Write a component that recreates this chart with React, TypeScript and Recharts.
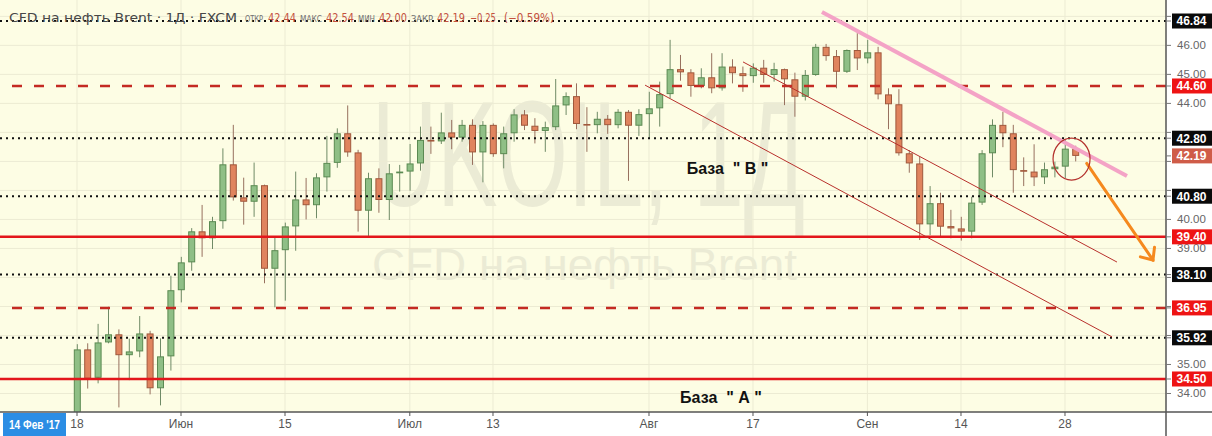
import React from 'react';
import { ComposedChart, Bar, XAxis, YAxis, CartesianGrid, ReferenceLine, ReferenceDot } from 'recharts';

// Daily candles, index 0 = 18 May ... index 96 = 29 Sep
const opens = [
  32.9, 35.52, 34.54, 35.76, 36.04, 35.32, 35.45, 36.07, 34.18, 35.28,
  37.56, 38.52, 39.59, 39.35, 39.94, 41.9, 40.76, 40.61, 41.18, 38.3,
  38.94, 39.76, 40.69, 40.49, 41.45, 41.95, 42.97, 42.31, 40.3, 41.42,
  40.67, 41.59, 41.65, 41.93, 42.74, 42.69, 43.0, 42.82, 43.26, 42.31,
  43.26, 42.25, 42.97, 43.62, 43.23, 43.05, 43.18, 43.93, 44.25, 43.29,
  43.25, 43.47, 43.25, 43.71, 43.23, 43.63, 43.83, 44.32, 45.18, 45.07,
  44.6, 44.9, 44.52, 45.27, 45.04, 44.94, 45.23, 44.98, 45.18, 44.83,
  44.23, 44.98, 45.95, 45.63, 45.09, 45.84, 45.55, 45.76, 44.31, 43.97,
  42.28, 41.93, 39.83, 40.56, 39.77, 39.69, 39.58, 40.58, 42.28, 43.26,
  42.97, 41.7, 41.65, 41.45, 41.73, 41.82, 42.44,
];
const highs = [
  35.7, 35.73, 36.4, 36.99, 36.21, 35.89, 36.67, 36.16, 35.9, 38.06,
  38.71, 39.7, 40.5, 40.09, 42.45, 43.26, 41.44, 41.96, 41.2, 39.4,
  39.89, 41.65, 41.43, 41.59, 42.88, 43.14, 43.93, 42.4, 41.61, 41.76,
  41.91, 41.88, 42.6, 43.2, 43.2, 43.68, 43.43, 43.43, 43.45, 43.39,
  43.31, 43.2, 43.8, 43.77, 43.49, 43.37, 44.84, 44.38, 44.69, 43.87,
  43.71, 43.6, 43.8, 43.77, 43.8, 44.4, 44.75, 46.19, 45.67, 45.18,
  45.21, 45.73, 45.73, 45.52, 45.27, 45.38, 45.5, 45.4, 45.2, 45.06,
  45.15, 46.05, 46.05, 45.84, 45.86, 46.42, 46.19, 45.95, 44.52, 44.49,
  42.39, 42.16, 41.15, 40.92, 40.33, 40.09, 40.78, 42.39, 43.45, 43.71,
  43.26, 42.14, 42.59, 41.96, 41.99, 42.74, 42.54,
];
const lows = [
  32.6, 34.17, 34.35, 35.73, 33.52, 34.46, 35.25, 33.97, 33.59, 34.79,
  37.14, 38.23, 38.71, 38.98, 39.68, 40.65, 39.82, 40.09, 37.8, 36.97,
  37.2, 38.92, 40.0, 40.04, 40.96, 41.78, 42.16, 39.58, 39.43, 40.23,
  39.98, 40.96, 40.99, 41.68, 42.26, 42.6, 42.42, 42.68, 41.88, 41.28,
  42.16, 41.76, 42.68, 43.08, 42.62, 42.33, 43.08, 43.6, 43.11, 42.33,
  42.97, 42.95, 43.14, 41.33, 42.88, 42.8, 43.2, 44.18, 44.78, 44.23,
  44.52, 44.35, 44.44, 44.69, 44.4, 44.71, 44.71, 44.75, 43.94, 43.54,
  44.1, 44.95, 45.47, 44.52, 45.05, 45.15, 45.38, 44.14, 43.11, 42.2,
  41.61, 39.29, 39.46, 39.38, 39.35, 39.27, 39.35, 40.5, 41.45, 42.49,
  40.92, 41.15, 41.15, 41.22, 41.45, 41.42, 42.0,
];
const closes = [
  35.52, 34.51, 35.76, 36.04, 35.32, 35.45, 36.07, 34.18, 35.28, 37.56,
  38.52, 39.59, 39.35, 39.94, 41.9, 40.76, 40.61, 41.18, 38.3, 38.94,
  39.76, 40.69, 40.49, 41.45, 41.95, 42.97, 42.31, 40.3, 41.42, 40.67,
  41.59, 41.65, 41.93, 42.74, 42.69, 43.0, 42.82, 43.26, 42.31, 43.26,
  42.25, 42.97, 43.62, 43.23, 43.05, 43.18, 43.93, 44.25, 43.29, 43.25,
  43.47, 43.25, 43.71, 43.23, 43.63, 43.83, 44.32, 45.18, 45.07, 44.6,
  44.9, 44.52, 45.27, 45.04, 44.94, 45.23, 44.98, 45.18, 44.83, 44.23,
  44.98, 45.95, 45.63, 45.09, 45.84, 45.55, 45.76, 44.31, 43.97, 42.28,
  41.93, 39.83, 40.56, 39.75, 39.69, 39.58, 40.58, 42.28, 43.26, 42.97,
  41.7, 41.66, 41.45, 41.73, 41.82, 42.44, 42.19,
];

const xTickIdx = [0, 10, 20, 32, 40, 55, 65, 76, 85, 95];
const xTickLabels = ['18', 'Июн', '15', 'Июл', '13', 'Авг', '17', 'Сен', '14', '28'];
const yTicks = [34, 35, 36, 37, 38, 39, 40, 41, 42, 43, 44, 45, 46, 47];

const levelPrices = [46.84, 44.6, 42.8, 40.8, 39.4, 38.1, 36.95, 35.92, 34.5];
const levelStyles = ['dot', 'dash', 'dot', 'dot', 'solid', 'dot', 'dash', 'dot', 'solid'];

const channelStarts = [[64.04, 45.43], [54.62, 44.63]];
const channelEnds = [[100.0, 38.53], [99.52, 35.95]];
const resistanceLine = [[71.63, 47.15], [100.96, 41.5]];
const forecastArrow = [[97.09, 41.93], [103.46, 38.6]];
const focusPoint = [95.63, 42.08];
const baseLabels = ['База  " В "', 'База  " А "'];
const baseLabelPos = [[62.55, 41.57], [61.92, 33.67]];

const X_DOMAIN: [number, number] = [-7.404, 104.712];
const Y_DOMAIN: [number, number] = [33.362, 47.564];

const data = opens.map((o, i) => ({ i, open: o, high: highs[i], low: lows[i], close: closes[i] }));
const lastClose = closes[closes.length - 1];
const tagPrices = [...levelPrices, lastClose];
const axisTicks = [...yTicks, ...tagPrices];

const G_FILL = '#8fbf86';
const G_STROKE = '#5b8a52';
const R_FILL = '#e0845e';
const R_STROKE = '#a0583c';
const GRID = '#ecebd3';
const CREAM = '#fdfde4';
const WM = '#ebebd5';

const WickShape = (p: any) => {
  const { x, y, width, height, payload } = p;
  if (x == null || y == null) return null;
  const up = payload.close >= payload.open;
  const cx = x + width / 2;
  return <line x1={cx} x2={cx} y1={y} y2={y + height} stroke={up ? '#6f8a66' : '#97705e'} strokeWidth={1} />;
};

const BodyShape = (p: any) => {
  const { x, y, width, height, payload } = p;
  if (x == null || y == null) return null;
  const up = payload.close >= payload.open;
  const top = height >= 0 ? y : y + height;
  const h = Math.max(Math.abs(height), 1);
  return (
    <rect
      x={x + 0.5}
      y={top + 0.5}
      width={width - 1}
      height={Math.max(h - 1, 0.6)}
      fill={up ? G_FILL : R_FILL}
      stroke={up ? G_STROKE : R_STROKE}
      strokeWidth={1}
    />
  );
};

const levelStroke = (s: string) => (s === 'dot' ? '#111' : s === 'dash' ? '#c42a22' : '#e3161b');
const tagFill = (s: string) => (s === 'dot' ? '#0a0a0a' : '#ee1414');

const PriceAxisTick = (props: any) => {
  const { x, y, payload } = props;
  const v = payload && payload.value;
  if (x == null || y == null || v == null) return null;
  const k = levelPrices.indexOf(v);
  const isLast = k < 0 && v === lastClose;
  if (k >= 0 || isLast) {
    const fill = isLast ? '#cf5c48' : tagFill(levelStyles[k]);
    return (
      <g>
        <rect x={x - 5} y={y - 7.5} width={46} height={15} fill={fill} />
        <text x={x + 14.5} y={y + 4.3} textAnchor="middle" fontSize={12} fontWeight="bold" fill="#fff" fontFamily="Liberation Sans, Arial, sans-serif">
          {v.toFixed(2)}
        </text>
      </g>
    );
  }
  // regular price labels hidden behind a price tag are not drawn
  if (tagPrices.some((t) => Math.abs(t - v) < 0.24)) return <g />;
  return (
    <text x={x} y={y + 4} textAnchor="start" fontSize={11.5} fill="#666" fontFamily="Liberation Sans, Arial, sans-serif">
      {v.toFixed(2)}
    </text>
  );
};

const ArrowShape = (p: any) => {
  const { x1, y1, x2, y2 } = p;
  if (x1 == null) return null;
  const ang = Math.atan2(y2 - y1, x2 - x1);
  const L = 13;
  const a = 0.72;
  const ax1 = x2 - L * Math.cos(ang - a);
  const ay1 = y2 - L * Math.sin(ang - a);
  const ax2 = x2 - L * Math.cos(ang + a);
  const ay2 = y2 - L * Math.sin(ang + a);
  return (
    <g>
      <line x1={x1} y1={y1} x2={x2} y2={y2} stroke="#f5891e" strokeWidth={3} strokeLinecap="round" />
      <polyline points={`${ax1},${ay1} ${x2},${y2} ${ax2},${ay2}`} fill="none" stroke="#f5891e" strokeWidth={3} strokeLinecap="round" />
    </g>
  );
};

const xLabel = (v: number) => {
  const k = xTickIdx.indexOf(v);
  return k >= 0 ? xTickLabels[k] : '';
};

export default function App() {
  const n = closes.length;
  const last = { o: opens[n - 1], h: highs[n - 1], l: lows[n - 1], c: closes[n - 1] };
  const chg = last.c - closes[n - 2];
  const pct = (chg / closes[n - 2]) * 100;
  const fmt = (v: number) => v.toFixed(2).replace('-', '−');

  return (
    <div style={{ position: 'absolute', left: 0, top: 0, width: 1212, height: 436, background: '#fff', fontFamily: 'Liberation Sans, Arial, sans-serif', overflow: 'hidden' }}>
      <div style={{ position: 'absolute', left: 0, top: 0, width: 1166, height: 412, background: CREAM }} />
      <svg style={{ position: 'absolute', left: 0, top: 0 }} width={1166} height={412}>
        <text x={372} y={206} fontSize={150} fill={WM} textLength={433} lengthAdjust="spacingAndGlyphs" fontFamily="Liberation Sans, Arial, sans-serif">
          UKOIL, 1Д
        </text>
        <text x={372} y={280} fontSize={44} fill={WM} textLength={425} lengthAdjust="spacingAndGlyphs" fontFamily="Liberation Sans, Arial, sans-serif">
          CFD на нефть Brent
        </text>
      </svg>
      <div style={{ position: 'absolute', left: 0, top: 0 }}>
        <ComposedChart width={1212} height={436} data={data} margin={{ top: 0, right: 0, bottom: 0, left: 0 }}>
          <CartesianGrid stroke={GRID} horizontalValues={yTicks} verticalValues={xTickIdx} />
          <XAxis
            xAxisId={0}
            dataKey="i"
            type="number"
            domain={X_DOMAIN}
            allowDataOverflow
            ticks={xTickIdx}
            interval={0}
            tickFormatter={xLabel}
            height={24}
            axisLine={{ stroke: '#555', strokeWidth: 1.5 }}
            tickLine={{ stroke: '#555' }}
            tickSize={4}
            tickMargin={3}
            tick={{ fontSize: 12, fill: '#555' }}
          />
          <XAxis xAxisId={1} dataKey="i" type="number" domain={X_DOMAIN} allowDataOverflow ticks={xTickIdx} hide />
          <YAxis
            orientation="right"
            width={46}
            domain={Y_DOMAIN}
            allowDataOverflow
            ticks={axisTicks}
            interval={0}
            axisLine={{ stroke: '#555', strokeWidth: 1.5 }}
            tickLine={{ stroke: '#777' }}
            tickSize={5}
            tickMargin={6}
            tick={PriceAxisTick}
          />
          <Bar xAxisId={1} dataKey={(d: any) => [d.low, d.high]} barSize={7} shape={WickShape} isAnimationActive={false} />
          <Bar
            xAxisId={0}
            dataKey={(d: any) => [Math.min(d.open, d.close), Math.max(d.open, d.close)]}
            barSize={7}
            shape={BodyShape}
            isAnimationActive={false}
          />
          {levelPrices.map((p, k) => (
            <ReferenceLine
              key={'lv' + k}
              y={p}
              stroke={levelStroke(levelStyles[k])}
              strokeWidth={levelStyles[k] === 'dot' ? 2 : 2.5}
              strokeDasharray={levelStyles[k] === 'dot' ? '2 4' : levelStyles[k] === 'dash' ? '10 12' : undefined}
            />
          ))}
          {channelStarts.map((s, k) => (
            <ReferenceLine
              key={'ch' + k}
              segment={[{ x: s[0], y: s[1] }, { x: channelEnds[k][0], y: channelEnds[k][1] }]}
              stroke="#b8302c"
              strokeWidth={1}
              ifOverflow="visible"
            />
          ))}
          <ReferenceLine
            segment={[{ x: resistanceLine[0][0], y: resistanceLine[0][1] }, { x: resistanceLine[1][0], y: resistanceLine[1][1] }]}
            stroke="#f4a3c6"
            strokeWidth={4}
            ifOverflow="visible"
          />
          <ReferenceDot
            x={focusPoint[0]}
            y={focusPoint[1]}
            r={19}
            ifOverflow="visible"
            shape={(p: any) => <ellipse cx={p.cx} cy={p.cy} rx={18.5} ry={21} fill="none" stroke="#b3302c" strokeWidth={1.2} />}
          />
          <ReferenceLine
            segment={[{ x: forecastArrow[0][0], y: forecastArrow[0][1] }, { x: forecastArrow[1][0], y: forecastArrow[1][1] }]}
            ifOverflow="visible"
            shape={ArrowShape}
          />
          {baseLabels.map((t, k) => (
            <ReferenceDot
              key={'bl' + k}
              x={baseLabelPos[k][0]}
              y={baseLabelPos[k][1]}
              r={1}
              ifOverflow="visible"
              shape={(p: any) => (
                <text
                  x={p.cx}
                  y={p.cy}
                  textAnchor="middle"
                  fontSize={16}
                  fontWeight="bold"
                  fill="#111"
                  style={{ whiteSpace: 'pre' }}
                  fontFamily="Liberation Sans, Arial, sans-serif"
                >
                  {t}
                </text>
              )}
            />
          ))}
        </ComposedChart>
      </div>
      <svg style={{ position: 'absolute', left: 0, top: 0, pointerEvents: 'none' }} width={1212} height={436}>
        <text x={9} y={22} fontSize={13} fill="#474747" textLength={228} lengthAdjust="spacingAndGlyphs" fontFamily="DejaVu Sans, sans-serif">
          CFD на нефть Brent · 1Д · FXCM
        </text>
        <g fontFamily="DejaVu Sans, sans-serif">
          <text x={245} y={22} fontSize={9} fill="#707070" textLength={18} lengthAdjust="spacingAndGlyphs">ОТКР</text>
          <text x={268} y={22} fontSize={12} fill="#c4513e" textLength={28} lengthAdjust="spacingAndGlyphs">{fmt(last.o)}</text>
          <text x={300} y={22} fontSize={9} fill="#707070" textLength={22} lengthAdjust="spacingAndGlyphs">МАКС</text>
          <text x={326} y={22} fontSize={12} fill="#c4513e" textLength={28} lengthAdjust="spacingAndGlyphs">{fmt(last.h)}</text>
          <text x={358} y={22} fontSize={9} fill="#707070" textLength={17} lengthAdjust="spacingAndGlyphs">МИН</text>
          <text x={379} y={22} fontSize={12} fill="#c4513e" textLength={28} lengthAdjust="spacingAndGlyphs">{fmt(last.l)}</text>
          <text x={411} y={22} fontSize={9} fill="#707070" textLength={22} lengthAdjust="spacingAndGlyphs">ЗАКР</text>
          <text x={437} y={22} fontSize={12} fill="#c4513e" textLength={28} lengthAdjust="spacingAndGlyphs">{fmt(last.c)}</text>
          <text x={470} y={22} fontSize={12} fill="#c4513e" textLength={26} lengthAdjust="spacingAndGlyphs">{fmt(chg)}</text>
          <text x={504} y={22} fontSize={12} fill="#c4513e" textLength={50} lengthAdjust="spacingAndGlyphs">{`(${fmt(pct)}%)`}</text>
        </g>
        <line x1={1166} y1={412} x2={1212} y2={412} stroke="#555" strokeWidth={1.5} />
        <line x1={1166} y1={412} x2={1166} y2={436} stroke="#555" strokeWidth={1.5} />
        <rect x={3} y={413} width={63} height={23} fill="#2b8de4" />
        <text x={34.5} y={429} textAnchor="middle" fontSize={12} fontWeight="bold" fill="#fff" textLength={51} lengthAdjust="spacingAndGlyphs" fontFamily="Liberation Sans, Arial, sans-serif">
          14 Фев '17
        </text>
      </svg>
    </div>
  );
}
